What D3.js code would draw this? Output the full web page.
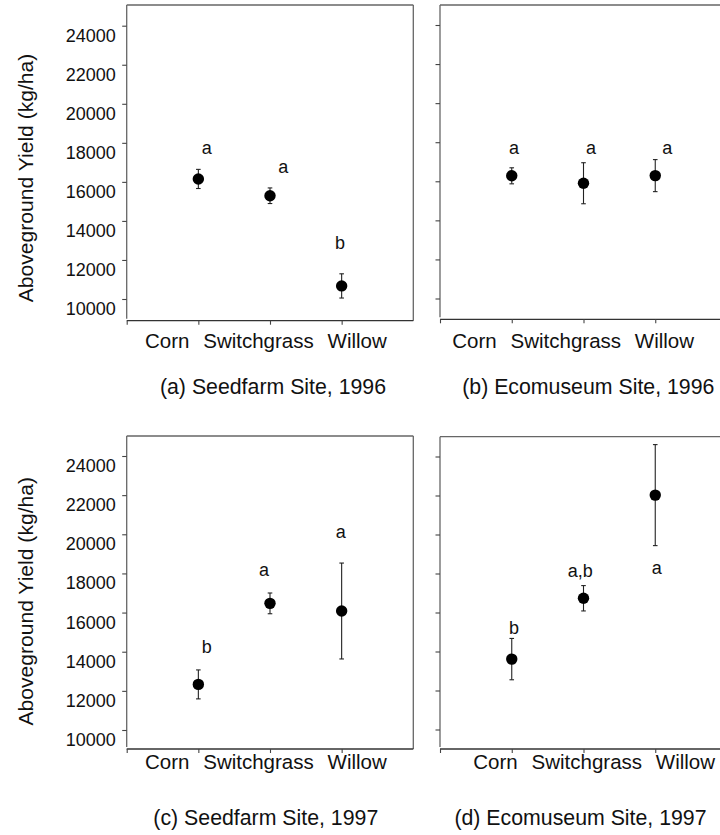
<!DOCTYPE html>
<html>
<head>
<meta charset="utf-8">
<script src="https://cdn.jsdelivr.net/npm/d3@7"></script>
<style>
  html, body { margin: 0; padding: 0; background: #fff; }
  svg { display: block; font-family: "Liberation Sans", Arial, sans-serif; }
</style>
</head>
<body>
<svg id="chart" width="720" height="835"></svg>
<script>
// ---------------- DATA ----------------
const categories = ["Corn", "Switchgrass", "Willow"];
const yTickValues = [10000, 12000, 14000, 16000, 18000, 20000, 22000, 24000];

const seedfarm1996Mean = [16150, 15290, 10670];
const seedfarm1996Err  = [490, 400, 620];
const seedfarm1996Letters = ["a", "a", "b"];
const seedfarm1996LetterAt = [17430, 16470, 12550];

const ecomuseum1996Mean = [16280, 15900, 16290];
const ecomuseum1996Err  = [410, 1050, 820];
const ecomuseum1996Letters = ["a", "a", "a"];
const ecomuseum1996LetterAt = [17400, 17400, 17400];

const seedfarm1997Mean = [12330, 16470, 16080];
const seedfarm1997Err  = [740, 530, 2450];
const seedfarm1997Letters = ["b", "a", "a"];
const seedfarm1997LetterAt = [13920, 17870, 19800];

const ecomuseum1997Mean = [13610, 16730, 22020];
const ecomuseum1997Err  = [1060, 650, 2590];
const ecomuseum1997Letters = ["b", "a,b", "a"];
const ecomuseum1997LetterAt = [14910, 17840, 17950];

const captions = ["(a) Seedfarm Site, 1996", "(b) Ecomuseum Site, 1996",
                  "(c) Seedfarm Site, 1997", "(d) Ecomuseum Site, 1997"];
const yAxisTitle = "Aboveground Yield (kg/ha)";

// ---------------- LAYOUT ----------------
const panels = [
  { mean: seedfarm1996Mean, err: seedfarm1996Err, letters: seedfarm1996Letters, letterAt: seedfarm1996LetterAt,
    caption: captions[0], x0: 126.7, x1: 413.3, top: 5, bottom: 320.7, yLo: 299, yHi: 25.7, labels: true,
    letterNudge: [8.4, 13.3, -1.6], catStart: 18.3, catBase: 348.3, capCx: 273, capBase: 394.3, titleCy: 178 },
  { mean: ecomuseum1996Mean, err: ecomuseum1996Err, letters: ecomuseum1996Letters, letterAt: ecomuseum1996LetterAt,
    caption: captions[1], x0: 440, x1: 727, top: 5, bottom: 319.3, yLo: 298.5, yHi: 25, labels: false,
    letterNudge: [2.3, 7.4, 12], catStart: 12.3, catBase: 348.3, capCx: 588.3, capBase: 394.3 },
  { mean: seedfarm1997Mean, err: seedfarm1997Err, letters: seedfarm1997Letters, letterAt: seedfarm1997LetterAt,
    caption: captions[2], x0: 126.7, x1: 413.3, top: 436, bottom: 749, yLo: 730, yHi: 456, labels: true,
    letterNudge: [8.4, -6, -1], catStart: 18.3, catBase: 769.3, capCx: 265.8, capBase: 825, titleCy: 601.3 },
  { mean: ecomuseum1997Mean, err: ecomuseum1997Err, letters: ecomuseum1997Letters, letterAt: ecomuseum1997LetterAt,
    caption: captions[3], x0: 440, x1: 727, top: 436.7, bottom: 749, yLo: 729.5, yHi: 456.5, labels: false,
    letterNudge: [2.3, -3.3, 1.4], catStart: 33.3, catBase: 769.3, capCx: 580.5, capBase: 825 }
];

const svg = d3.select("#chart");

panels.forEach(p => {
  const x = d3.scaleLinear().domain([0, 4]).range([p.x0, p.x1]);
  const y = d3.scaleLinear().domain([10000, 24000]).range([p.yLo, p.yHi]);
  const g = svg.append("g");

  // frame
  g.append("line").attr("x1", p.x0).attr("x2", p.x0).attr("y1", p.top).attr("y2", p.bottom - 2)
    .attr("stroke", "#666").attr("stroke-width", 1.3);
  g.append("line").attr("x1", p.x0).attr("x2", p.x1).attr("y1", p.top).attr("y2", p.top)
    .attr("stroke", "#666").attr("stroke-width", 1.3);
  g.append("line").attr("x1", p.x1).attr("x2", p.x1).attr("y1", p.top).attr("y2", p.bottom)
    .attr("stroke", "#666").attr("stroke-width", 1.3);
  g.append("line").attr("x1", p.x0).attr("x2", p.x1).attr("y1", p.bottom).attr("y2", p.bottom)
    .attr("stroke", "#333").attr("stroke-width", 1.3);

  // y axis ticks
  const yAxis = d3.axisLeft(y).tickValues(yTickValues).tickSize(4.5).tickFormat("");
  const ya = g.append("g").attr("transform", `translate(${p.x0},0)`).call(yAxis);
  ya.select(".domain").remove();
  ya.selectAll(".tick line").attr("stroke", "#444").attr("stroke-width", 1.1);
  if (p.labels) {
    g.selectAll("text.ytl").data(yTickValues).enter().append("text")
      .attr("class", "ytl")
      .attr("x", p.x0 - 11).attr("y", d => y(d) + 16)
      .attr("text-anchor", "end").attr("font-size", 18).attr("fill", "#111")
      .text(d => d);
    g.append("text")
      .attr("transform", `translate(33.3,${p.titleCy}) rotate(-90)`)
      .attr("text-anchor", "middle").attr("font-size", 21.1).attr("fill", "#111")
      .text(yAxisTitle);
  }

  // x axis ticks
  const xAxis = d3.axisBottom(x).tickValues([0, 1, 2, 3]).tickSize(4).tickFormat("");
  const xa = g.append("g").attr("transform", `translate(0,${p.bottom})`).call(xAxis);
  xa.select(".domain").remove();
  xa.selectAll(".tick line").attr("stroke", "#444").attr("stroke-width", 1.1);

  // category labels (one line, words spaced)
  let cx = p.x0 + p.catStart;
  categories.forEach(c => {
    const t = g.append("text").attr("x", cx).attr("y", p.catBase)
      .attr("font-size", 20.5).attr("fill", "#111").text(c);
    cx += t.node().getComputedTextLength() + 13.8;
  });

  // error bars
  const idx = d3.range(categories.length);
  const eb = g.selectAll("g.eb").data(idx).enter().append("g").attr("class", "eb");
  eb.append("line")
    .attr("x1", i => x(i + 1)).attr("x2", i => x(i + 1))
    .attr("y1", i => y(p.mean[i] + p.err[i])).attr("y2", i => y(p.mean[i] - p.err[i]))
    .attr("stroke", "#222").attr("stroke-width", 1.1);
  eb.append("line")
    .attr("x1", i => x(i + 1) - 2.3).attr("x2", i => x(i + 1) + 2.3)
    .attr("y1", i => y(p.mean[i] + p.err[i])).attr("y2", i => y(p.mean[i] + p.err[i]))
    .attr("stroke", "#222").attr("stroke-width", 1.1);
  eb.append("line")
    .attr("x1", i => x(i + 1) - 2.3).attr("x2", i => x(i + 1) + 2.3)
    .attr("y1", i => y(p.mean[i] - p.err[i])).attr("y2", i => y(p.mean[i] - p.err[i]))
    .attr("stroke", "#222").attr("stroke-width", 1.1);

  // points
  g.selectAll("circle.pt").data(idx).enter().append("circle")
    .attr("class", "pt")
    .attr("cx", i => x(i + 1)).attr("cy", i => y(p.mean[i])).attr("r", 5.7)
    .attr("fill", "#000");

  // significance letters
  g.selectAll("text.sig").data(idx).enter().append("text")
    .attr("class", "sig")
    .attr("x", i => x(i + 1) + p.letterNudge[i]).attr("y", i => y(p.letterAt[i]))
    .attr("text-anchor", "middle").attr("font-size", 18).attr("fill", "#111")
    .text(i => p.letters[i]);

  // caption
  g.append("text").attr("x", p.capCx).attr("y", p.capBase)
    .attr("text-anchor", "middle").attr("font-size", 21.3).attr("fill", "#111")
    .text(p.caption);
});
</script>
</body>
</html>
